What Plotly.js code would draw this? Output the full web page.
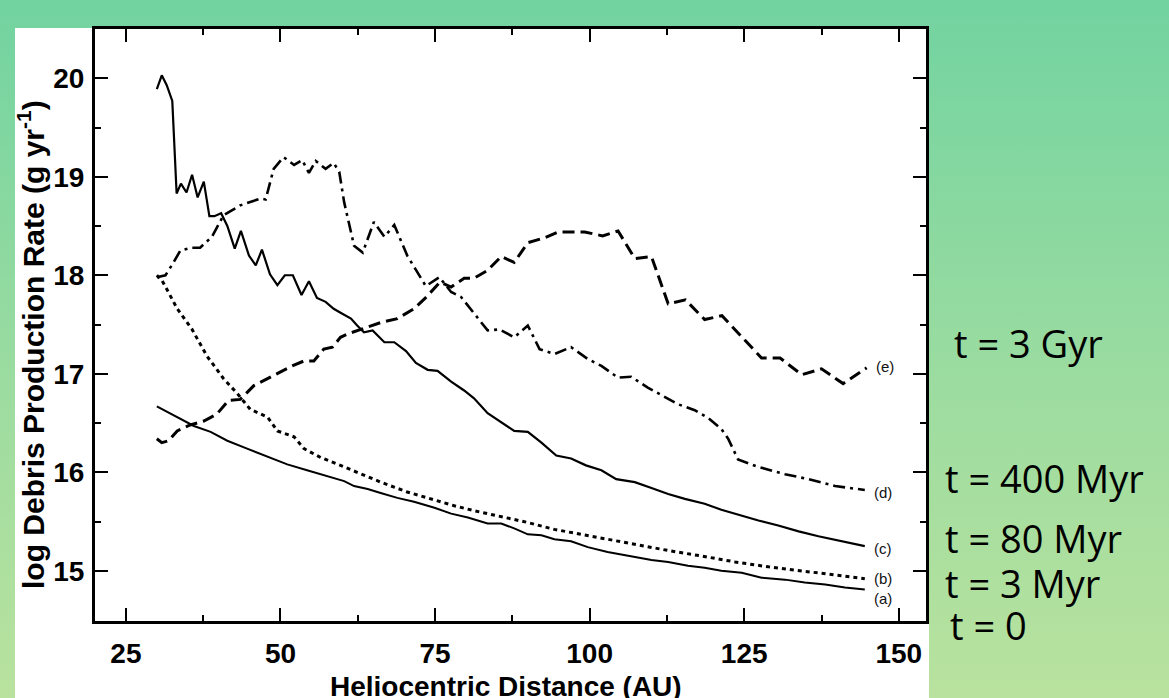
<!DOCTYPE html>
<html>
<head>
<meta charset="utf-8">
<script src="https://cdn.plot.ly/plotly-3.0.1.min.js"></script>
<style>
  html, body { margin: 0; padding: 0; width: 1169px; height: 698px; overflow: hidden; }
  body { background: linear-gradient(to bottom, #72d3a0 0%, #9cdca0 55%, #b9e29e 100%); position: relative; }
  #panel { position: absolute; left: 15px; top: 28px; width: 914px; height: 670px; background: #ffffff; }
  #chart { position: absolute; left: 0; top: 0; width: 1169px; height: 698px; }
</style>
</head>
<body>
<div id="panel"></div>
<div id="chart"></div>
<script>
// ---- Data ----
const xA = [30.0,32.7,36.0,38.7,41.4,44.6,47.9,51.1,54.3,57.6,60.3,61.9,64.1,66.2,68.9,71.6,74.9,77.6,80.3,83.5,85.7,87.8,90.0,92.2,94.3,97.0,99.7,102.9,106.7,110.0,112.7,115.9,118.6,121.3,124.6,127.8,131.6,134.8,138.1,141.3,144.5];
const yA = [16.67,16.58,16.47,16.41,16.32,16.24,16.16,16.08,16.02,15.96,15.91,15.86,15.83,15.79,15.74,15.70,15.64,15.58,15.54,15.48,15.48,15.43,15.37,15.36,15.32,15.30,15.24,15.19,15.15,15.11,15.09,15.05,15.03,15.00,14.98,14.93,14.91,14.88,14.86,14.83,14.81];

const xB = [30.0,30.8,31.6,33.3,35.7,38.1,40.8,43.0,45.1,47.9,49.5,52.2,53.8,56.5,59.7,62.4,66.2,70.5,74.3,78.1,81.3,85.7,90.0,94.3,98.6,103.5,108.4,113.2,118.1,123.5,128.9,134.3,139.7,144.5];
const yB = [18.00,17.95,17.86,17.66,17.45,17.18,16.95,16.80,16.64,16.56,16.42,16.36,16.24,16.15,16.07,16.00,15.90,15.80,15.73,15.66,15.61,15.55,15.49,15.42,15.37,15.31,15.25,15.20,15.15,15.09,15.04,15.00,14.96,14.92];

const xC = [30.0,30.8,31.6,32.5,33.2,33.9,34.8,35.7,36.6,37.6,38.5,39.3,40.4,41.4,42.6,43.6,44.9,46.0,47.0,48.3,49.5,50.7,52.0,53.4,54.6,55.9,57.3,58.6,60.0,61.4,62.4,63.5,64.9,66.8,68.4,70.3,71.9,73.8,75.4,77.6,79.7,81.3,83.5,85.7,87.8,90.0,92.2,94.6,97.0,99.4,101.9,104.3,107.3,110.0,112.7,115.4,118.6,121.3,124.0,127.3,130.5,133.8,137.0,140.8,144.5];
const yC = [19.89,20.03,19.93,19.77,18.83,18.93,18.84,19.02,18.79,18.95,18.60,18.60,18.63,18.50,18.27,18.45,18.20,18.10,18.26,18.01,17.90,18.00,18.00,17.80,17.94,17.77,17.73,17.66,17.61,17.56,17.49,17.42,17.44,17.32,17.32,17.23,17.11,17.04,17.03,16.92,16.83,16.75,16.60,16.51,16.42,16.41,16.30,16.17,16.14,16.07,16.02,15.93,15.90,15.84,15.78,15.73,15.68,15.62,15.57,15.51,15.46,15.40,15.35,15.30,15.25];

const xD = [30.0,31.4,32.5,33.8,35.7,37.0,38.9,40.8,43.5,46.8,47.6,48.9,50.5,52.2,53.5,54.6,55.7,57.3,58.6,59.5,60.3,61.9,63.3,65.1,66.8,68.4,70.5,73.5,75.7,77.6,79.2,81.3,83.5,85.4,87.8,90.0,91.9,94.3,97.0,99.7,101.9,104.6,106.7,109.4,111.6,114.3,117.0,119.2,121.3,122.4,124.0,127.0,131.6,135.4,139.7,144.5];
const yD = [17.98,18.00,18.11,18.25,18.28,18.28,18.39,18.61,18.71,18.78,18.77,19.08,19.20,19.12,19.17,19.04,19.16,19.08,19.14,19.05,18.74,18.30,18.23,18.54,18.39,18.51,18.20,17.89,17.98,17.83,17.78,17.61,17.44,17.45,17.37,17.49,17.25,17.20,17.27,17.15,17.08,16.96,16.97,16.86,16.78,16.69,16.63,16.55,16.44,16.34,16.13,16.06,15.98,15.93,15.86,15.82];

const xE = [30.0,30.8,31.9,33.3,35.4,37.6,39.7,41.6,43.5,45.7,47.9,50.0,51.9,53.8,55.4,57.0,58.4,59.7,61.1,63.0,66.2,68.9,71.6,73.6,75.8,77.6,79.7,81.3,83.5,85.7,87.8,90.0,92.7,94.9,99.2,102.1,104.6,107.3,110.0,112.7,115.5,118.6,121.4,127.8,130.8,134.3,137.5,141.0,144.8];
const yE = [16.34,16.30,16.32,16.42,16.48,16.52,16.59,16.73,16.74,16.88,16.95,17.02,17.08,17.13,17.13,17.25,17.27,17.37,17.41,17.45,17.52,17.56,17.66,17.78,17.93,17.88,17.97,17.97,18.05,18.19,18.13,18.33,18.38,18.44,18.44,18.40,18.45,18.17,18.19,17.71,17.75,17.55,17.59,17.16,17.16,16.99,17.05,16.90,17.06];

const curveLabels = ['(a)','(b)','(c)','(d)','(e)'];
const timeLabels = ['t = 0','t = 3 Myr','t = 80 Myr','t = 400 Myr','t = 3 Gyr'];
const xTickVals = [25,50,75,100,125,150];
const yTickVals = [15,16,17,18,19,20];
const xTitle = 'Heliocentric Distance (AU)';
const yTitle = 'log Debris Production Rate (g yr<sup>-1</sup>)';

// ---- Layout geometry ----
const W = 1169, H = 698;
const M = {l: 95, r: 243, t: 29, b: 77};
const pw = W - M.l - M.r, ph = H - M.t - M.b;
const xp = px => (px - M.l) / pw;
const yp = py => (H - M.b - py) / ph;

const series = [
  {x: xA, y: yA, dash: 'solid', w: 2, lab: curveLabels[0], ys: -9},
  {x: xB, y: yB, dash: '4px,4px', w: 3, lab: curveLabels[1], ys: 0},
  {x: xC, y: yC, dash: 'solid', w: 2.2, lab: curveLabels[2], ys: -2},
  {x: xD, y: yD, dash: '12px,5px,3px,5px', w: 2.6, lab: curveLabels[3], ys: -3},
  {x: xE, y: yE, dash: '12px,6px', w: 3, lab: curveLabels[4], ys: 1},
];

const traces = series.map(s => ({
  type: 'scatter', mode: 'lines', x: s.x, y: s.y,
  line: {color: '#000', width: s.w, dash: s.dash},
  hoverinfo: 'skip', showlegend: false
}));

const labelFont = {family: 'Liberation Sans, Arial, sans-serif', size: 15, color: '#111'};
const annotations = series.map(s => ({
  x: s.x[s.x.length - 1], y: s.y[s.y.length - 1], xref: 'x', yref: 'y',
  text: s.lab, showarrow: false, xanchor: 'left', yanchor: 'middle',
  xshift: 7, yshift: s.ys, font: labelFont
}));

// right-side time labels
const tPos = [[948, 625], [943, 583], [943, 538], [943, 478], [952, 343]];
const tFont = {family: 'Open Sans, Noto Sans, sans-serif', size: 38, color: '#000'};
timeLabels.forEach((t, i) => {
  annotations.push({
    x: xp(tPos[i][0]), y: yp(tPos[i][1]), xref: 'paper', yref: 'paper',
    text: t, showarrow: false, xanchor: 'left', yanchor: 'middle', font: tFont
  });
});

annotations.push({
  x: xp(506), y: yp(686), xref: 'paper', yref: 'paper', text: xTitle,
  showarrow: false, xanchor: 'center', yanchor: 'middle',
  font: {family: 'Liberation Sans, Arial, sans-serif', size: 28, color: '#000', weight: 'bold'}
});
annotations.push({
  x: xp(31), y: yp(345), xref: 'paper', yref: 'paper', text: yTitle,
  showarrow: false, xanchor: 'center', yanchor: 'middle', textangle: -90,
  font: {family: 'Liberation Sans, Arial, sans-serif', size: 30, color: '#000', weight: 'bold'}
});

const tickFont = {family: 'Liberation Sans, Arial, sans-serif', size: 28, color: '#000', weight: 'bold'};
const axisCommon = {
  showline: true, linecolor: '#000', linewidth: 3, mirror: 'ticks',
  ticks: 'inside', ticklen: 13, tickwidth: 2, tickcolor: '#000',
  showgrid: false, zeroline: false, tickfont: tickFont, fixedrange: true
};

const layout = {
  width: W, height: H,
  margin: M,
  paper_bgcolor: 'rgba(0,0,0,0)',
  plot_bgcolor: 'rgba(0,0,0,0)',
  showlegend: false,
  xaxis: Object.assign({}, axisCommon, {
    range: [20, 154.4], tickmode: 'array', tickvals: xTickVals,
    ticklabelstandoff: 5,
    minor: {ticks: 'inside', ticklen: 6, tickwidth: 2, tickcolor: '#000', dtick: 12.5, tick0: 0, showgrid: false}
  }),
  yaxis: Object.assign({}, axisCommon, {
    range: [14.49, 20.5], tickmode: 'array', tickvals: yTickVals,
    ticklabelstandoff: 2,
    minor: {ticks: 'inside', ticklen: 6, tickwidth: 2, tickcolor: '#000', dtick: 0.5, tick0: 0, showgrid: false}
  }),
  annotations: annotations
};

Plotly.newPlot('chart', traces, layout, {displayModeBar: false, staticPlot: true});
</script>
</body>
</html>
